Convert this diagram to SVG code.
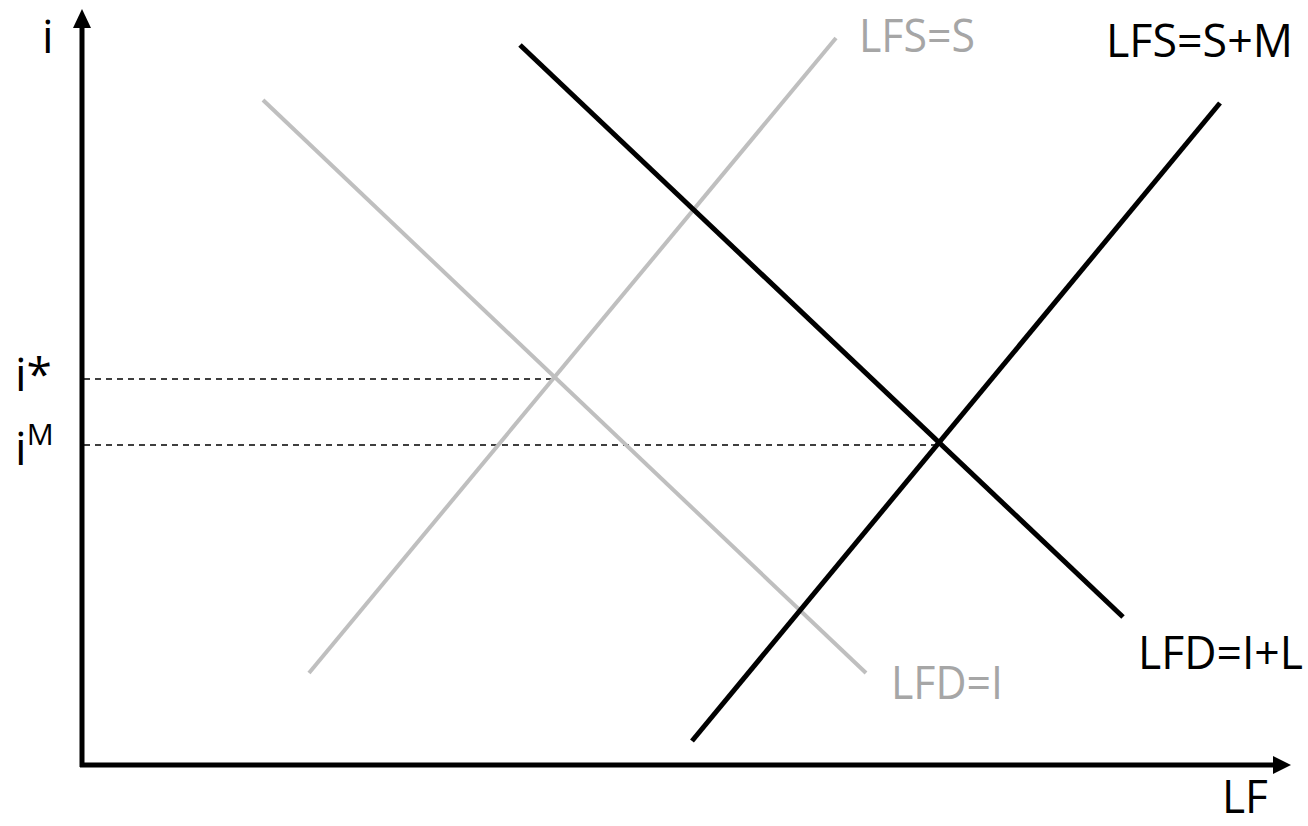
<svg xmlns="http://www.w3.org/2000/svg" width="1308" height="826" viewBox="0 0 1308 826">
<style>
text{font-family:"Open Sans","Liberation Sans",sans-serif;font-size:46px}
.blk{fill:#000}
.gry{fill:#a6a6a6}
.gl{stroke:#bfbfbf;stroke-width:4;fill:none}
.bl{stroke:#000;stroke-width:5;fill:none}
.dash{stroke:#000;stroke-width:1.5;stroke-dasharray:6 5;fill:none}
.axis{stroke:#000;stroke-width:5;fill:none}
</style>
<g id="axes">
<path class="axis" d="M82,767 L82,28"/>
<path d="M82,9 L73,28 L91,28 z" fill="#000"/>
<path class="axis" d="M80,765 L1273,765"/>
<path d="M1291,765 L1273,756 L1273,774 z" fill="#000"/>
</g>
<g id="connectors">
<path class="dash" d="M84,379 L555,379"/>
<path class="dash" d="M84,445 L937,445"/>
<path class="gl" d="M309,673 L836,38"/>
<path class="gl" d="M263,100 L866,673"/>
<path class="bl" d="M520,45 L1123,617"/>
<path class="bl" d="M692,741 L1220,103"/>
</g>
<g id="labels">
<text class="blk" x="42" y="53">i</text>
<text class="blk" x="15" y="391">i*</text>
<text class="blk" x="15" y="465">i<tspan font-size="30" dy="-20">M</tspan></text>
<text class="blk" x="1222" y="813" textLength="46" lengthAdjust="spacingAndGlyphs">LF</text>
<text class="gry" x="859" y="52" textLength="116" lengthAdjust="spacingAndGlyphs">LFS=S</text>
<text class="blk" x="1106" y="57" textLength="187" lengthAdjust="spacingAndGlyphs">LFS=S+M</text>
<text class="blk" x="1138" y="669" textLength="165" lengthAdjust="spacingAndGlyphs">LFD=I+L</text>
<text class="gry" x="891" y="699" textLength="112" lengthAdjust="spacingAndGlyphs">LFD=I</text>
</g>
</svg>
